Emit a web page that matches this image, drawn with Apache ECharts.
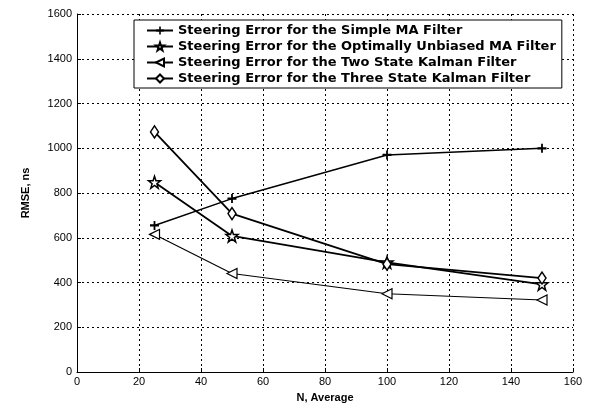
<!DOCTYPE html>
<html>
<head>
<meta charset="utf-8">
<script src="https://cdn.jsdelivr.net/npm/echarts@6/dist/echarts.min.js"></script>
<style>
html, body { margin: 0; padding: 0; background: #fff; }
#main { width: 590px; height: 410px; }
</style>
</head>
<body>
<div id="main"></div>
<script>
// data
const nValues = [25, 50, 100, 150];
const simpleMA = [655, 775, 970, 1000];
const optUnbiasedMA = [848, 608, 490, 392];
const twoStateKF = [615, 440, 350, 322];
const threeStateKF = [1073, 708, 482, 420];
const seriesNames = [
  'Steering Error for the Simple MA Filter',
  'Steering Error for the Optimally Unbiased MA Filter',
  'Steering Error for the Two State Kalman Filter',
  'Steering Error for the Three State Kalman Filter'
];

const pairs = arr => nValues.map((n, i) => [n, arr[i]]);

const plusPath = 'path://M0,4L10,4L10,6L0,6Z M4,1L6,1L6,9L4,9Z';
const starPath = 'path://M5,0L6.2,3.6L10,3.6L7,5.9L8.1,9.5L5,7.3L1.9,9.5L3,5.9L0,3.6L3.8,3.6Z';
const triLeftPath = 'path://M0,5L10,0L10,10Z';

const font = 'Liberation Sans, Arial, sans-serif';

let chart = echarts.init(document.getElementById('main'));
chart.setOption({
  animation: false,
  backgroundColor: '#fff',
  grid: { left: 77, right: 17, top: 14, bottom: 38 },
  legend: {
    orient: 'vertical',
    left: 134,
    top: 20,
    backgroundColor: '#fff',
    borderColor: '#000',
    borderWidth: 1,
    borderRadius: 0,
    padding: [4, 6, 3, 12],
    itemGap: 3,
    itemWidth: 26,
    itemHeight: 10,
    textStyle: { fontFamily: 'DejaVu Sans, sans-serif', fontSize: 13, fontWeight: 'bold', color: '#000' },
    data: seriesNames
  },
  xAxis: {
    type: 'value',
    min: 0, max: 160, interval: 20,
    name: 'N, Average',
    nameLocation: 'middle',
    nameGap: 20,
    nameTextStyle: { fontFamily: font, fontSize: 11, fontWeight: 'bold', color: '#000' },
    axisLine: { show: true, lineStyle: { color: '#000', width: 1 } },
    axisTick: { show: true, inside: true, length: 4, lineStyle: { color: '#000' } },
    axisLabel: { fontFamily: font, fontSize: 11, color: '#000', margin: 4 },
    splitLine: { show: true, lineStyle: { color: '#000', type: [2, 3], width: 1 } }
  },
  yAxis: {
    type: 'value',
    min: 0, max: 1600, interval: 200,
    name: 'RMSE, ns',
    nameLocation: 'middle',
    nameGap: 46,
    nameTextStyle: { fontFamily: font, fontSize: 11, fontWeight: 'bold', color: '#000' },
    axisLine: { show: true, lineStyle: { color: '#000', width: 1 } },
    axisTick: { show: true, inside: true, length: 4, lineStyle: { color: '#000' } },
    axisLabel: { fontFamily: font, fontSize: 11, color: '#000', margin: 5, formatter: v => String(v) },
    splitLine: { show: true, lineStyle: { color: '#000', type: [2, 3], width: 1 } }
  },
  series: [
    {
      name: seriesNames[0], type: 'line', data: pairs(simpleMA),
      symbol: plusPath, symbolSize: 9,
      itemStyle: { color: '#000' },
      lineStyle: { color: '#000', width: 1.5 }
    },
    {
      name: seriesNames[1], type: 'line', data: pairs(optUnbiasedMA),
      symbol: starPath, symbolSize: 12,
      itemStyle: { color: '#fff', borderColor: '#000', borderWidth: 1.5 },
      lineStyle: { color: '#000', width: 1.8 }
    },
    {
      name: seriesNames[2], type: 'line', data: pairs(twoStateKF),
      symbol: triLeftPath, symbolSize: 10,
      itemStyle: { color: '#fff', borderColor: '#000', borderWidth: 1.2 },
      lineStyle: { color: '#000', width: 1.1 }
    },
    {
      name: seriesNames[3], type: 'line', data: pairs(threeStateKF),
      symbol: 'diamond', symbolSize: [8, 12],
      itemStyle: { color: '#fff', borderColor: '#000', borderWidth: 1.5 },
      lineStyle: { color: '#000', width: 1.8 }
    }
  ]
}, true);
</script>
</body>
</html>
